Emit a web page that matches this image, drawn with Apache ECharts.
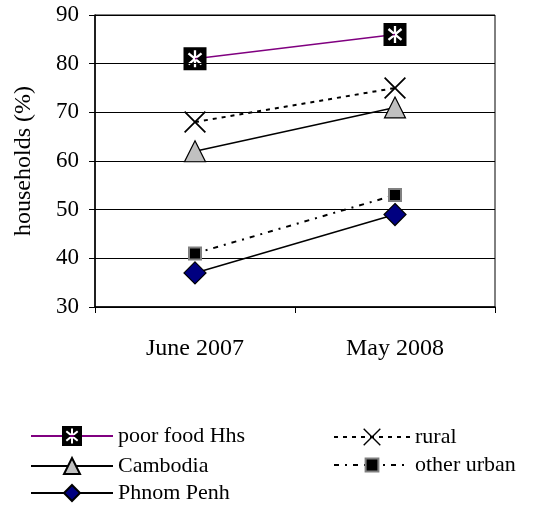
<!DOCTYPE html>
<html>
<head>
<meta charset="utf-8">
<script src="https://cdn.jsdelivr.net/npm/echarts@6/dist/echarts.min.js"></script>
<style>html,body{margin:0;padding:0;background:#fff}#c{width:550px;height:513px}</style>
</head>
<body>
<div id="c"></div>
<script>
var categories = ['June 2007', 'May 2008'];
var poorFood = [81, 86];
var rural = [68, 75];
var cambodia = [62, 71];
var otherUrban = [41, 53];
var phnomPenh = [37, 49];
var yTicks = [30, 40, 50, 60, 70, 80, 90];

// symbol shape helpers (styles only)
function star(cx, cy, angles, L, hw) {
  var pts = [];
  var n = angles.length;
  for (var i = 0; i < n; i++) {
    var a = angles[i] * Math.PI / 180;
    var dx = Math.cos(a), dy = Math.sin(a), px = -Math.sin(a), py = Math.cos(a);
    pts.push([cx + L * dx - hw * px, cy + L * dy - hw * py]);
    pts.push([cx + L * dx + hw * px, cy + L * dy + hw * py]);
    var a2 = angles[(i + 1) % n] + (i + 1 === n ? 360 : 0);
    var delta = (a2 - angles[i]) * Math.PI / 180;
    var b = (angles[i] * Math.PI / 180) + delta / 2;
    var r = hw / Math.sin(delta / 2);
    pts.push([cx + r * Math.cos(b), cy + r * Math.sin(b)]);
  }
  return pts;
}
function toPath(pts) {
  return 'M' + pts.map(function (p) { return p[0].toFixed(2) + ' ' + p[1].toFixed(2); }).join(' L') + ' Z';
}
var asterisk = star(10, 10, [40, 90, 140, 220, 270, 320], 7.4, 1.0).reverse();
var poorSymbol = 'path://M0 0 L20 0 L20 20 L0 20 Z ' + toPath(asterisk);
var xSymbol = 'path://' + toPath(star(10, 10, [45, 135, 225, 315], 13.4, 0.8));

var FONT = 'Liberation Serif';
var chart = echarts.init(document.getElementById('c'), null, {renderer: 'canvas'});
var legendBase = {
  textStyle: {fontFamily: FONT, fontSize: 22, color: '#000'},
  selectedMode: false
};
function leg(name, left, top, w, h) {
  return Object.assign({}, legendBase, {data: [name], left: left, top: top, itemWidth: w, itemHeight: h, orient: 'vertical'});
}
chart.setOption({
  animation: false,
  backgroundColor: '#fff',
  grid: {left: 95, right: 55, top: 15, bottom: 206, show: true, borderColor: '#000', borderWidth: 1},
  legend: [
    leg('poor food Hhs', 25, 420, 82, 25),
    leg('Cambodia', 25, 450, 82, 20),
    leg('Phnom Penh', 25, 477, 82, 20),
    leg('rural', 328, 421, 76, 22),
    leg('other urban', 328, 449, 76, 16)
  ],
  xAxis: {
    type: 'category',
    data: categories,
    boundaryGap: true,
    axisLine: {lineStyle: {color: '#000', width: 1.5}},
    axisTick: {show: true, length: 6, lineStyle: {color: '#000'}},
    axisLabel: {fontFamily: FONT, fontSize: 24, color: '#000', margin: 30}
  },
  yAxis: {
    type: 'value',
    min: yTicks[0], max: yTicks[yTicks.length - 1], interval: 10,
    name: 'households (%)',
    nameLocation: 'middle',
    nameGap: 59,
    nameTextStyle: {fontFamily: FONT, fontSize: 24, color: '#000'},
    axisLine: {show: true, lineStyle: {color: '#000', width: 1.5}},
    axisTick: {show: true, length: 6, lineStyle: {color: '#000'}},
    axisLabel: {fontFamily: FONT, fontSize: 23, color: '#000', margin: 16},
    splitLine: {lineStyle: {color: '#000', width: 1}}
  },
  series: [
    {
      name: 'poor food Hhs', type: 'line', data: poorFood,
      symbol: poorSymbol, symbolSize: 23,
      itemStyle: {color: '#000'},
      lineStyle: {color: '#800080', width: 1.5}, z: 5
    },
    {
      name: 'Cambodia', type: 'line', data: cambodia,
      symbol: 'triangle', symbolSize: 21,
      itemStyle: {color: '#c0c0c0', borderColor: '#000', borderWidth: 1.2},
      lineStyle: {color: '#000', width: 1.5}
    },
    {
      name: 'Phnom Penh', type: 'line', data: phnomPenh,
      symbol: 'diamond', symbolSize: [22, 22],
      itemStyle: {color: '#000080', borderColor: '#000', borderWidth: 1.2},
      lineStyle: {color: '#000', width: 1.5}
    },
    {
      name: 'rural', type: 'line', data: rural,
      symbol: xSymbol, symbolSize: 22,
      itemStyle: {color: '#000'},
      lineStyle: {color: '#000', width: 2, type: [4, 5]}
    },
    {
      name: 'other urban', type: 'line', data: otherUrban,
      symbol: 'rect', symbolSize: 12,
      itemStyle: {color: '#000', borderColor: '#808080', borderWidth: 2},
      lineStyle: {color: '#000', width: 2, type: [5, 6, 2, 6]}
    }
  ]
});
</script>
</body>
</html>
